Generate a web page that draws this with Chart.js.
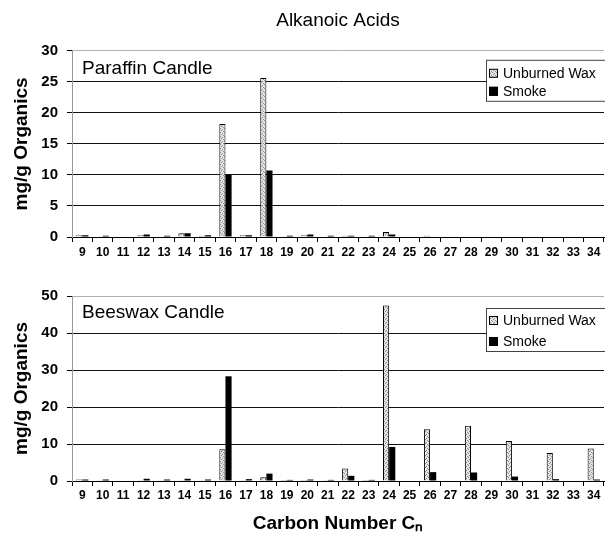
<!DOCTYPE html>
<html>
<head>
<meta charset="utf-8">
<script src="https://cdn.jsdelivr.net/npm/chart.js@4.4.1/dist/chart.umd.min.js"></script>
<style>
    html, body { margin: 0; padding: 0; background: #fff; }
    #wrap { position: relative; width: 605px; height: 540px; }
    .panel { position: absolute; left: 0; width: 605px; }
    #topPanel { top: 0; height: 265px; }
    #bottomPanel { top: 265px; height: 275px; }
</style>
</head>
<body>
<div id="wrap">
    <div class="panel" id="topPanel"><canvas id="paraffinChart"></canvas></div>
    <div class="panel" id="bottomPanel"><canvas id="beeswaxChart"></canvas></div>
</div>
<script>
// Dados (mg/g), carbonos C9 a C34
const carbonNumbers = ['9', '10', '11', '12', '13', '14', '15', '16', '17', '18', '19', '20', '21',
    '22', '23', '24', '25', '26', '27', '28', '29', '30', '31', '32', '33', '34'];

const paraffinUnburned = [0.3, 0.1, 0, 0.3, 0.1, 0.6, 0.2, 18.2, 0.3, 25.6, 0.1, 0.3, 0.1,
    0.2, 0.1, 0.8, 0, 0.2, 0, 0.1, 0, 0, 0, 0, 0, 0];
const paraffinSmoke = [0.3, 0.2, 0, 0.4, 0.2, 0.6, 0.3, 10.0, 0.3, 10.7, 0.2, 0.4, 0.2,
    0.2, 0.2, 0.4, 0, 0.1, 0, 0.1, 0, 0, 0, 0, 0, 0];

const beeswaxUnburned = [0.4, 0.2, 0, 0.1, 0.1, 0.1, 0.1, 8.6, 0.1, 1.0, 0.3, 0.3, 0.1,
    3.4, 0.3, 47.4, 0, 14.0, 0, 14.9, 0, 10.8, 0, 7.6, 0, 8.8];
const beeswaxSmoke = [0.4, 0.4, 0, 0.6, 0.4, 0.6, 0.4, 28.3, 0.5, 2.0, 0.3, 0.4, 0.3,
    1.4, 0.3, 9.2, 0, 2.4, 0, 2.3, 0, 1.2, 0, 0.5, 0, 0.4];

const seriesNames = ['Unburned Wax', 'Smoke'];

const FONT = '"Liberation Sans", Arial, sans-serif';

// Padrão pontilhado cinza das barras de cera
function stipplePattern() {
    const c = document.createElement('canvas');
    c.width = 4;
    c.height = 4;
    const g = c.getContext('2d');
    g.fillStyle = '#e4e4e4';
    g.fillRect(0, 0, 4, 4);
    g.fillStyle = '#8c8c8c';
    g.fillRect(0, 0, 1, 1);
    g.fillRect(2, 1, 1, 1);
    g.fillRect(1, 2, 1, 1);
    g.fillRect(3, 3, 1, 1);
    return g.createPattern(c, 'repeat');
}

// Legenda em caixa no canto superior direito
const boxLegend = {
    id: 'boxLegend',
    afterDraw(chart, args, opts) {
        const ctx = chart.ctx;
        const area = chart.chartArea;
        const x = 486;
        const y = area.top + opts.top;
        ctx.save();
        ctx.fillStyle = '#fff';
        ctx.fillRect(x, y, 125, opts.height);
        ctx.strokeStyle = '#444';
        ctx.lineWidth = 1;
        ctx.strokeRect(x + 0.5, y + 0.5, 125, opts.height);
        ctx.font = '14px ' + FONT;
        ctx.textBaseline = 'middle';
        chart.data.datasets.forEach((ds, i) => {
            const cy = y + opts.firstRow + i * opts.rowGap;
            ctx.fillStyle = ds.backgroundColor;
            ctx.fillRect(489, cy - 4, 9, 9);
            ctx.strokeStyle = '#000';
            ctx.strokeRect(489.5, cy - 3.5, 8, 8);
            ctx.fillStyle = '#000';
            ctx.fillText(ds.label, 503, cy + 1);
        });
        ctx.restore();
    }
};

// Nome do painel (vela)
const panelLabel = {
    id: 'panelLabel',
    afterDraw(chart, args, opts) {
        const ctx = chart.ctx;
        ctx.save();
        ctx.font = '19px ' + FONT;
        ctx.fillStyle = '#000';
        ctx.textBaseline = 'middle';
        ctx.fillText(opts.text, 82, chart.chartArea.top + opts.dy);
        ctx.restore();
    }
};

function buildChart(canvasId, cfg) {
    const fill = stipplePattern();
    return new Chart(document.getElementById(canvasId), {
        type: 'bar',
        data: {
            labels: carbonNumbers,
            datasets: [{
                label: seriesNames[0],
                data: cfg.unburned,
                backgroundColor: fill,
                borderColor: '#000',
                borderWidth: 1,
                categoryPercentage: 0.6,
                barPercentage: 1.0
            }, {
                label: seriesNames[1],
                data: cfg.smoke,
                backgroundColor: '#000',
                borderColor: '#000',
                borderWidth: 0,
                categoryPercentage: 0.6,
                barPercentage: 1.0
            }]
        },
        options: {
            responsive: true,
            maintainAspectRatio: false,
            animation: false,
            layout: { padding: { left: 0, right: 1, top: cfg.padTop, bottom: 0 } },
            plugins: {
                legend: { display: false },
                tooltip: { enabled: false },
                title: cfg.title,
                boxLegend: cfg.legend,
                panelLabel: { text: cfg.panel, dy: cfg.panelDy }
            },
            scales: {
                x: {
                    grid: { offset: true, drawOnChartArea: false, tickLength: 5, color: '#000' },
                    border: { color: '#000', width: 1 },
                    ticks: {
                        color: '#000',
                        font: { family: FONT, size: 12, weight: 'bold' },
                        padding: cfg.xPad,
                        maxRotation: 0,
                        autoSkip: false
                    },
                    title: cfg.xTitle,
                    afterFit: (s) => { s.height = cfg.xHeight; }
                },
                y: {
                    min: 0,
                    max: cfg.yMax,
                    ticks: {
                        stepSize: cfg.yStep,
                        color: '#000',
                        font: { family: FONT, size: 15, weight: 'bold' },
                        padding: 9
                    },
                    grid: {
                        color: (c) => (c.tick && c.tick.value === cfg.yMax) ? '#b0b0b0' : '#111',
                        tickLength: 5,
                        tickColor: '#000'
                    },
                    border: { color: '#999' },
                    title: {
                        display: true,
                        text: 'mg/g Organics',
                        color: '#000',
                        font: { family: FONT, size: 19, weight: 'bold' },
                        padding: { top: 10, bottom: 0 }
                    },
                    afterFit: (s) => { s.width = 72; }
                }
            }
        },
        plugins: [boxLegend, panelLabel]
    });
}

buildChart('paraffinChart', {
    unburned: paraffinUnburned,
    smoke: paraffinSmoke,
    yMax: 30,
    yStep: 5,
    padTop: 0,
    panel: 'Paraffin Candle',
    panelDy: 18,
    legend: { top: 9, height: 41, firstRow: 13, rowGap: 18 },
    title: {
        display: true,
        text: 'Alkanoic Acids',
        fullSize: false,
        color: '#000',
        font: { family: FONT, size: 19, weight: 'normal' },
        padding: { top: 9, bottom: 19 }
    },
    xTitle: { display: false },
    xPad: 3,
    xHeight: 28
});

buildChart('beeswaxChart', {
    unburned: beeswaxUnburned,
    smoke: beeswaxSmoke,
    yMax: 50,
    yStep: 10,
    padTop: 31,
    panel: 'Beeswax Candle',
    panelDy: 17,
    legend: { top: 12, height: 43, firstRow: 12, rowGap: 21 },
    title: { display: false },
    xTitle: {
        display: true,
        text: 'Carbon Number Cₙ',
        color: '#000',
        font: { family: FONT, size: 19, weight: 'bold' },
        padding: { top: 0, bottom: 5 }
    },
    xPad: 2,
    xHeight: 59
});
</script>
</body>
</html>
